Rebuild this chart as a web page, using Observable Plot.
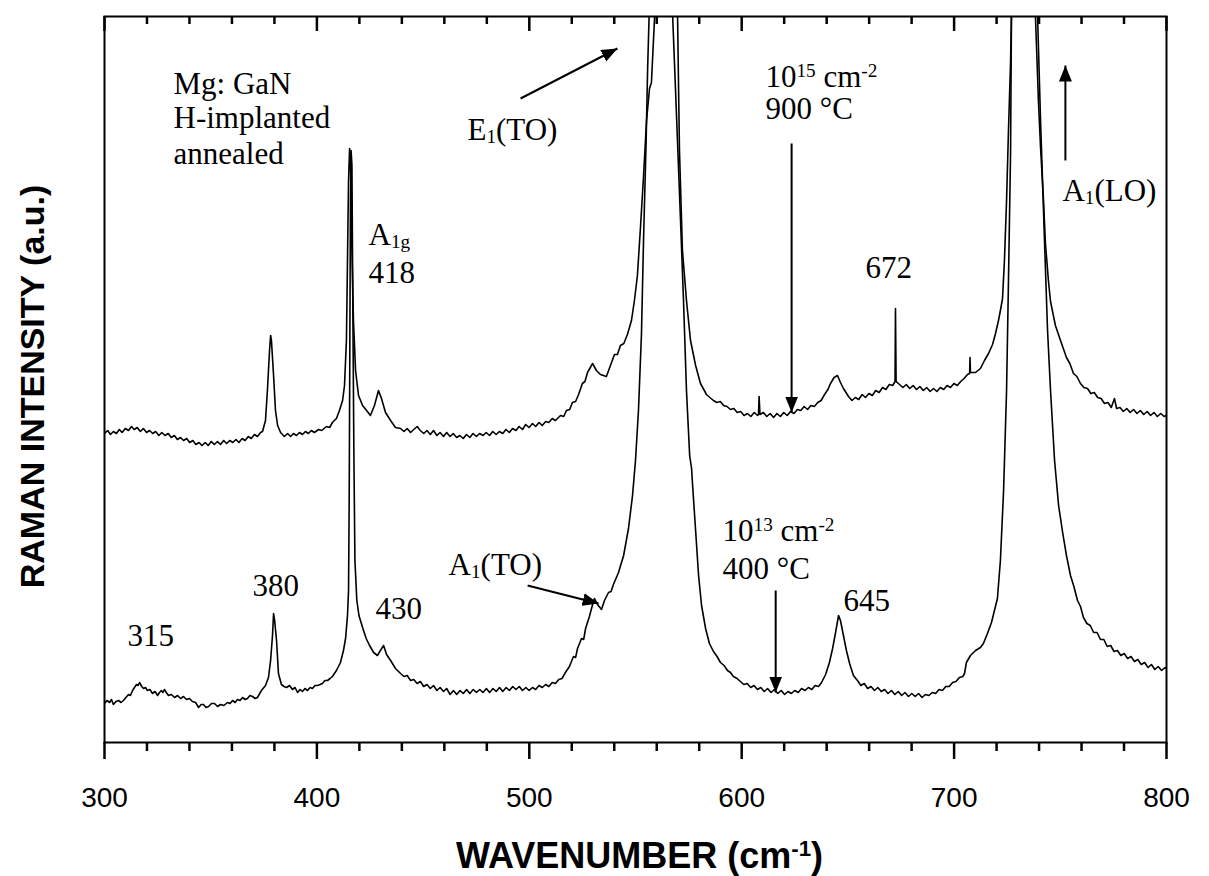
<!DOCTYPE html>
<html>
<head>
<meta charset="utf-8">
<script src="https://cdn.jsdelivr.net/npm/d3@7"></script>
<script src="https://cdn.jsdelivr.net/npm/@observablehq/plot@0.6"></script>
<style>
  html, body { margin: 0; padding: 0; background: #fff; }
  #chart svg { display: block; }
</style>
</head>
<body>
<div id="chart"></div>
<script>
// ---------- DATA (wavenumber cm^-1, Raman intensity a.u.) ----------
// Upper spectrum: 10^15 cm^-2, annealed 900 °C
const spectrum900 = [
  [300.0,309],[301.5,312],[302.8,308],[304.2,311],[305.6,309],[307.0,313],[308.3,310],[309.8,314],
  [311.3,312],[312.7,316],[314.0,313],[315.4,315],[316.9,311],[318.3,314],[319.8,310],[321.2,312],
  [322.7,309],[324.1,311],[325.6,307],[327.0,310],[328.5,307],[330.0,309],[331.4,305],[332.9,307],
  [334.3,303],[335.8,305],[337.2,302],[338.7,304],[340.1,300],[341.6,302],[343.0,298],[344.5,300],
  [345.9,297],[347.4,300],[348.8,297],[350.3,301],[351.7,298],[353.2,301],[354.6,298],[356.1,302],
  [357.5,299],[359.0,302],[360.4,300],[361.9,303],[363.3,300],[364.8,304],[366.2,302],[367.7,306],
  [369.1,304],[370.6,308],[372.0,306],[373.5,310],[374.4,311],[375.8,322],[376.7,352],
  [377.7,392],[378.2,407],[378.6,402],[379.6,367],[380.5,332],[381.5,317],[382.9,310],[384.7,306],
  [386.2,309],[387.6,306],[389.0,309],[390.4,307],[391.8,310],[393.2,308],[394.6,311],[396.0,309],
  [397.4,312],[398.8,310],[400.8,313],[402.3,312],[404.5,316],[406.0,315],[407.3,320],[409.2,324],
  [410.6,332],[412.1,342],[413.0,357],[413.9,402],[414.4,482],[414.9,562],[415.4,594],[415.8,582],
  [416.3,512],[417.2,422],[418.2,372],[419.6,347],[421.5,337],[423.4,332],[425.2,327],[427.1,337],
  [429.0,352],[430.4,344],[432.3,330],[434.7,322],[437.0,315],[439.4,314],[441.0,311],[442.5,314],
  [444.1,310],[445.6,313],[447.2,316],[448.7,312],[450.3,309],[451.8,312],[453.4,308],[454.9,312],
  [456.5,307],[458.0,310],[459.6,306],[461.1,310],[462.7,306],[464.2,309],[465.8,305],[467.3,307],
  [468.9,304],[470.4,308],[472.0,305],[473.5,309],[475.1,306],[476.6,309],[478.2,307],[479.7,310],
  [481.3,307],[482.8,311],[484.4,308],[485.9,311],[487.5,309],[489.0,313],[490.6,310],[492.1,314],
  [493.7,312],[495.2,316],[496.8,313],[498.3,318],[499.9,315],[501.5,319],[503.0,316],[504.6,320],
  [506.1,317],[507.7,321],[509.2,320],[510.8,324],[512.3,322],[514.7,327],[516.2,326],[517.5,332],
  [519.0,333],[520.3,340],[521.8,341],[523.2,348],[525.0,359],[526.2,361],[527.4,370],
  [529.8,379],[531.6,372],[533.5,368],[536.3,366],[538.2,377],[540.1,388],[541.5,388],[542.9,397],
  [544.5,399],[546.2,408],[548.1,422],[549.5,442],[550.9,467],[552.4,517],[553.8,567],[555.2,622],
  [556.6,654],[557.5,660],[559.0,726],[559.9,762],[564.1,842],[568.8,762],[569.8,726],[570.7,592],
  [572.1,492],[574.0,442],[575.9,402],[578.3,377],[580.6,359],[583.4,348],[585.0,345],[586.7,342],
  [588.3,340],[589.9,341],[591.5,337],[593.1,336],[594.7,333],[596.3,334],[597.9,330],[599.5,331],
  [601.1,327],[602.7,329],[604.3,326],[605.9,330],[607.5,327],[607.9,328],[608.2,346],[608.6,328],
  [610.2,330],[611.8,326],[613.4,329],[615.0,325],[616.6,329],[618.2,326],[619.8,330],[621.4,327],
  [623.0,331],[624.6,329],[626.2,333],[627.8,332],[629.4,336],[631.0,333],[632.6,337],[634.2,336],
  [635.8,340],[637.4,342],[639.0,348],[640.6,353],[641.8,359],[643.5,365],[645.1,367],[646.5,360],
  [647.9,354],[650.3,346],[651.9,342],[653.5,345],[655.1,343],[656.7,348],[658.3,345],[659.9,349],
  [661.5,347],[663.1,352],[664.7,350],[666.3,355],[667.9,353],[669.5,358],[671.1,357],[672.2,361],
  [672.4,434],[672.7,361],[674.3,358],[675.9,355],[677.5,358],[679.1,354],[680.7,357],[682.3,353],
  [683.9,356],[685.5,352],[687.1,355],[688.7,351],[690.3,354],[691.9,351],[693.5,355],[695.1,353],
  [696.7,357],[698.3,355],[699.9,359],[701.5,357],[703.1,361],[704.7,364],[706.3,368],[707.3,369],
  [707.5,385],[707.7,370],[710.1,370],[712.4,374],[714.3,382],[716.2,389],[718.1,398],[719.5,409],
  [720.9,422],[721.8,432],[722.8,444],[723.7,482],[724.7,542],[725.6,612],[726.6,682],[727.0,726],
  [731.3,892],[738.3,726],[739.7,642],[740.7,595],[742.1,542],[743.0,499],[744.4,462],[745.4,441],
  [747.7,417],[750.1,402],[752.9,385],[754.5,379],[756.2,369],[757.8,366],[759.5,359],[761.1,355],
  [762.8,354],[764.4,349],[766.0,350],[767.6,345],[769.2,344],[770.8,339],[772.4,340],[774.0,335],
  [775.5,344],[776.5,334],[778.1,335],[779.7,331],[781.3,334],[782.9,330],[784.5,333],[786.1,329],
  [787.7,332],[789.3,328],[790.9,331],[792.5,327],[794.1,330],[795.7,326],[797.3,329],[798.9,326],
  [800.0,327]
];

// Lower spectrum: 10^13 cm^-2, annealed 400 °C
const spectrum400 = [
  [300.0,39],[301.2,42],[302.4,40],[303.3,43],[304.2,38],[305.4,41],[306.6,42],[307.8,40],
  [308.9,42],[310.1,45],[311.3,48],[312.2,47],[313.2,52],[314.1,55],[315.1,58],[315.8,57],
  [316.5,60],[317.5,56],[318.4,54],[319.3,55],[320.2,52],[321.4,53],[322.6,49],[323.8,51],
  [325.0,47],[325.9,50],[326.8,52],[327.5,50],[328.2,53],[329.1,50],[330.1,47],[331.5,48],
  [333.0,45],[334.4,47],[335.8,44],[337.2,46],[338.6,43],[340.0,44],[341.4,41],[342.9,40],
  [344.3,35],[345.5,38],[346.6,38],[347.8,35],[349.0,36],[350.4,39],[351.8,39],[353.2,36],
  [354.6,38],[356.2,37],[357.9,40],[359.1,39],[360.3,42],[361.5,40],[362.6,43],[363.8,42],
  [365.0,45],[366.2,43],[367.3,44],[368.5,47],[369.7,46],[370.9,44],[372.0,45],
  [373.9,52],[375.8,57],[377.2,65],[378.2,82],[379.1,107],[379.6,129],[380.1,122],[381.0,102],
  [381.9,69],[383.3,58],[384.5,56],[385.7,55],[387.1,57],[388.5,53],[389.7,55],[390.9,50],
  [392.1,53],[393.2,51],[394.4,54],[395.6,52],[396.8,55],[397.9,54],[399.1,57],[400.3,57],
  [401.5,58],[402.6,59],[403.8,62],[405.0,62],[406.2,64],[407.3,66],[409.2,72],[411.1,80],
  [412.5,92],[413.5,104],[414.4,127],[414.9,152],[415.2,242],[415.5,392],[415.8,542],[416.1,592],
  [416.5,577],[416.9,442],[417.4,292],[417.9,182],[418.8,142],[419.8,127],[421.5,115],[423.2,104],
  [424.8,97],[426.7,90],[428.5,87],[429.9,92],[431.4,97],[432.8,88],[434.7,82],[437.0,74],
  [439.4,69],[441.0,66],[442.5,67],[444.1,62],[445.6,63],[447.2,59],[448.7,61],[450.3,56],
  [451.8,58],[453.4,54],[454.9,57],[456.5,52],[458.0,55],[459.6,51],[461.1,54],[462.7,48],
  [464.3,52],[465.8,48],[467.4,52],[468.9,49],[470.5,53],[472.0,49],[473.6,53],[475.1,50],
  [476.7,53],[478.2,50],[479.8,54],[481.3,50],[482.9,54],[484.4,51],[486.0,55],[487.5,51],
  [489.1,55],[490.6,52],[492.2,56],[493.7,53],[495.3,56],[496.8,52],[498.4,55],[499.9,52],
  [501.5,55],[503.0,53],[504.6,57],[506.1,55],[507.7,58],[509.2,56],[510.8,60],[512.3,59],
  [513.9,63],[515.4,64],[517.0,70],[518.9,76],[520.8,86],[521.8,85],[522.7,94],[524.6,104],
  [525.6,103],[526.5,114],[528.3,126],[529.8,138],[530.7,144],[532.1,138],[534.0,133],[535.4,142],
  [537.3,150],[538.5,151],[539.6,158],[542.0,170],[544.4,187],[546.7,214],[548.6,247],[550.0,282],
  [551.4,332],[552.8,408],[553.8,504],[555.0,601],[555.7,673],[556.4,726],[561.8,892],[567.5,726],
  [569.4,622],[571.2,522],[572.6,442],[574.0,352],[575.5,287],[576.4,274],[576.8,260],[578.3,212],
  [579.7,167],[581.1,137],[583.0,114],[584.8,99],[586.7,91],[588.4,86],[590.0,80],[591.7,77],
  [593.3,72],[594.7,70],[596.1,66],[597.8,64],[599.4,61],[601.0,58],[602.6,59],[604.2,55],
  [605.8,57],[607.4,53],[609.0,55],[610.6,51],[612.2,54],[613.8,50],[615.4,53],[617.0,49],
  [618.6,52],[620.2,48],[621.8,51],[623.4,49],[625.0,52],[626.6,50],[628.2,54],[629.8,52],
  [631.4,55],[633.0,53],[634.6,57],[636.2,56],[637.6,60],[639.5,68],[641.3,80],[642.8,94],
  [644.2,110],[645.6,127],[646.5,122],[647.9,107],[649.3,92],[650.8,79],[652.6,67],[654.5,62],
  [656.1,57],[657.7,59],[659.3,54],[660.9,56],[662.5,52],[664.1,55],[665.7,51],[667.3,53],
  [668.9,49],[670.5,52],[672.1,48],[673.7,51],[675.3,47],[676.9,50],[678.5,46],[680.1,49],
  [681.7,46],[683.3,49],[684.9,45],[686.5,48],[688.1,47],[689.7,50],[691.3,49],[692.9,53],
  [694.5,52],[696.1,56],[697.7,56],[699.3,60],[700.9,61],[702.5,65],[704.1,66],[704.9,69],
  [705.8,80],[707.7,87],[710.1,92],[712.4,95],[713.8,99],[715.7,109],[717.6,120],[719.0,132],
  [720.4,144],[721.8,182],[723.3,252],[724.7,352],[725.6,462],[726.6,592],[727.0,726],[732.2,892],
  [739.3,726],[740.7,622],[742.6,499],[744.0,412],[745.4,352],[747.3,282],[749.2,237],[751.1,210],
  [752.9,187],[754.8,167],[756.4,156],[758.1,142],[759.5,136],[760.9,125],[762.5,119],[764.1,117],
  [765.7,110],[767.3,110],[768.9,103],[770.5,103],[772.1,96],[773.7,97],[775.3,91],[776.9,92],
  [778.5,87],[780.1,89],[781.7,84],[783.3,86],[784.9,81],[786.5,83],[788.1,78],[789.7,80],
  [791.3,75],[792.9,78],[794.5,73],[796.1,76],[797.7,72],[799.3,75],[800.0,74]
];

// Axis ticks
const majorTicks = [300, 400, 500, 600, 700, 800];
const minorTicks = [320, 340, 360, 380, 420, 440, 460, 480, 520, 540, 560, 580,
                    620, 640, 660, 680, 720, 740, 760, 780];

// Annotation texts (anchored in data coordinates: wavenumber, intensity)
const annotationTexts = ["Mg: GaN", "H-implanted", "annealed", "A_{1g}", "418", "E_{1}(TO)",
  "10^{15} cm^{-2}", "900 °C", "672", "A_{1}(LO)", "315", "380", "430", "A_{1}(TO)",
  "10^{13} cm^{-2}", "400 °C", "645"];
const annotationX = [332.5, 332.5, 332.5, 424.3, 424.3, 470.9, 611.2, 611.2, 658.3, 751.0,
  310.8, 369.7, 427.6, 462.0, 591.0, 591.0, 647.9];
const annotationY = [649, 615, 579, 498, 460, 603, 656, 624, 465, 542, 97, 147, 124, 168, 202, 164, 132];

// Arrows: [x1, y1, x2, y2] in data coordinates (tail -> head)
const arrowsData = [
  [495.9, 644, 541.5, 694],  // E1(TO)
  [623.5, 599, 623.5, 330],  // 10^15 / 900 °C
  [752.4, 582, 752.4, 677],  // A1(LO)
  [499.2, 157, 532.6, 139],  // A1(TO)
  [616.0, 152, 616.0, 50]    // 10^13 / 400 °C
];

// ---------- CHART ----------
const annotations = annotationTexts.map((t, i) => ({text: t, x: annotationX[i], y: annotationY[i]}));
const arrows = arrowsData.map(([x1, y1, x2, y2]) => ({x1, y1, x2, y2}));

const W = 1209, H = 876, mL = 104, mR = 43, mT = 16, mB = 134;
const yTop = 726;

function triangleMarker(color) {
  const m = d3.create("svg:marker")
    .attr("viewBox", "-8 -7 16 14")
    .attr("markerWidth", 16)
    .attr("markerHeight", 14)
    .attr("markerUnits", "userSpaceOnUse")
    .attr("refX", 8)
    .attr("refY", 0)
    .attr("orient", "auto");
  m.append("path").attr("d", "M-8,-6.5L8,0L-8,6.5Z").attr("fill", color).attr("stroke", "none");
  return m.node();
}

function build(marker) {
  return Plot.plot({
    width: W, height: H,
    marginLeft: mL, marginRight: mR, marginTop: mT, marginBottom: mB,
    style: {background: "white", overflow: "visible"},
    x: {domain: [300, 800], label: null},
    y: {domain: [0, yTop], label: null, axis: null},
    marks: [
      Plot.line(spectrum400, {x: d => d[0], y: d => d[1], stroke: "black", strokeWidth: 1.6, clip: true}),
      Plot.line(spectrum900, {x: d => d[0], y: d => d[1], stroke: "black", strokeWidth: 1.6, clip: true}),
      Plot.frame({stroke: "black", strokeWidth: 2}),
      // bottom axis: major ticks with labels, minor ticks (outward)
      Plot.axisX(majorTicks, {anchor: "bottom", tickSize: 17, tickPadding: 28, strokeWidth: 2.5,
        fontSize: 28, fontFamily: "Liberation Sans, Arial, sans-serif", fill: "black", label: null,
        tickFormat: d => String(d)}),
      Plot.axisX(minorTicks, {anchor: "bottom", tickSize: 9, strokeWidth: 2.5, label: null, tickFormat: () => ""}),
      // top inward ticks
      Plot.ruleX(majorTicks, {x: d => d, y1: yTop, y2: yTop - 15, stroke: "black", strokeWidth: 2.5}),
      Plot.ruleX(minorTicks, {x: d => d, y1: yTop, y2: yTop - 8, stroke: "black", strokeWidth: 2.5}),
      // arrows
      Plot.link(arrows, {x1: "x1", y1: "y1", x2: "x2", y2: "y2", stroke: "black", strokeWidth: 2, markerEnd: marker}),
      // annotations
      Plot.text(annotations, {x: "x", y: "y", text: "text", textAnchor: "start", lineAnchor: "bottom",
        fontSize: 31, fontFamily: "Liberation Serif, Times New Roman, serif", fill: "black"}),
      // axis titles
      Plot.text(["WAVENUMBER (cm^{-1})"], {frameAnchor: "bottom", dx: 4, dy: 125, lineAnchor: "bottom",
        textAnchor: "middle", fontSize: 36, fontWeight: "bold", fontFamily: "Liberation Sans, Arial, sans-serif", fill: "black"}),
      Plot.text(["RAMAN INTENSITY (a.u.)"], {frameAnchor: "left", dx: -61, dy: 7, rotate: -90, lineAnchor: "bottom",
        textAnchor: "middle", fontSize: 34, fontWeight: "bold", fontFamily: "Liberation Sans, Arial, sans-serif", fill: "black"})
    ]
  });
}

let chart;
try { chart = build(triangleMarker); } catch (e) { chart = build("arrow"); }

// convert ^{..} / _{..} markup into superscript / subscript tspans
d3.select(chart).selectAll("text").each(function () {
  const t = this.textContent;
  if (!/[\^_]\{/.test(t)) return;
  const re = /([\^_])\{([^}]*)\}/g;
  const parts = [];
  let last = 0, m;
  while ((m = re.exec(t))) {
    if (m.index > last) parts.push({s: t.slice(last, m.index)});
    parts.push({s: m[2], k: m[1]});
    last = re.lastIndex;
  }
  if (last < t.length) parts.push({s: t.slice(last)});
  this.textContent = "";
  const sel = d3.select(this);
  for (const p of parts) {
    const ts = sel.append("tspan").text(p.s);
    if (p.k) ts.attr("font-size", "62%").attr("baseline-shift", p.k === "^" ? "super" : "-3px");
  }
});

document.getElementById("chart").appendChild(chart);
</script>
</body>
</html>
